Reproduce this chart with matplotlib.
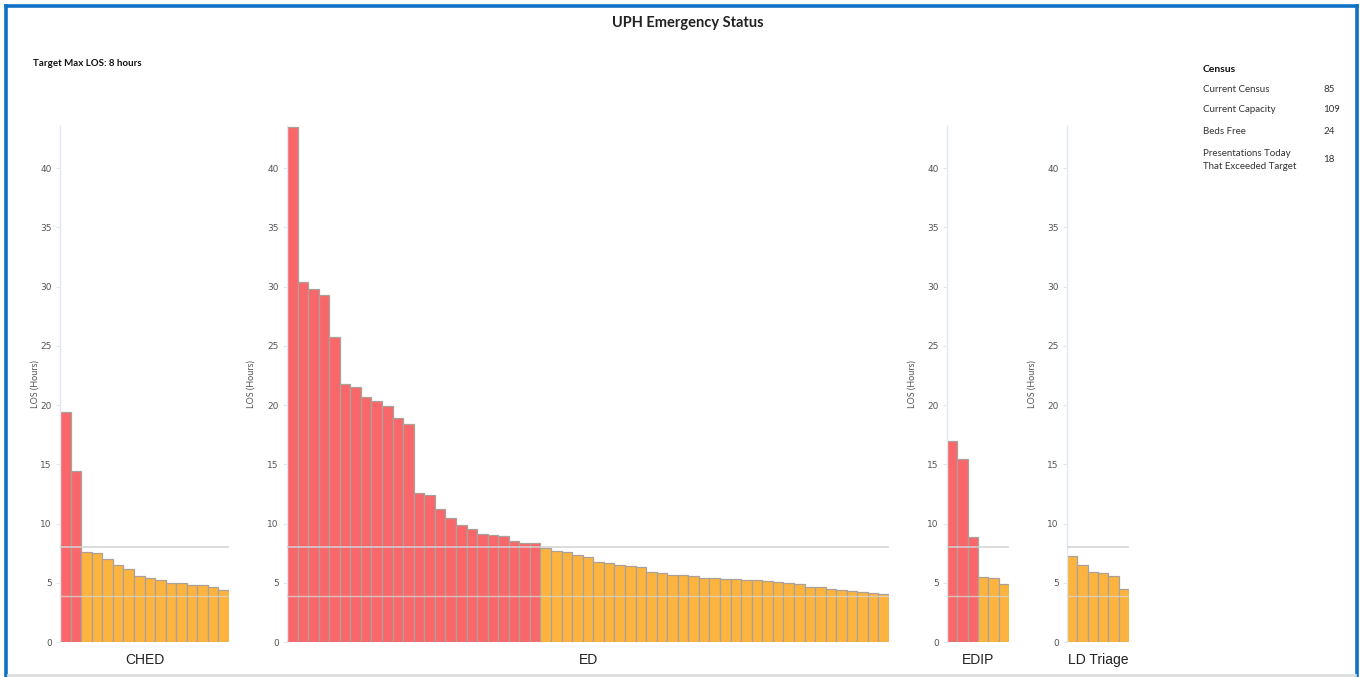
import matplotlib.pyplot as plt
from matplotlib.lines import Line2D

# LOS (hours) per presentation, sorted descending, per area
areas = ['CHED', 'ED', 'EDIP', 'LD Triage']
ched = [19.4, 14.4, 7.6, 7.5, 7.0, 6.5, 6.2, 5.6, 5.4, 5.2, 5.0, 4.95, 4.8, 4.8, 4.65, 4.4]
ed = [43.5, 30.4, 29.8, 29.3, 25.7, 21.8, 21.55, 20.65, 20.3, 19.9, 18.9, 18.4,
      12.55, 12.4, 11.2, 10.5, 9.9, 9.55, 9.15, 9.05, 8.95, 8.55, 8.33, 8.33,
      7.9, 7.72, 7.63, 7.33, 7.16, 6.77, 6.65, 6.47, 6.39, 6.34, 5.92, 5.86,
      5.68, 5.62, 5.58, 5.38, 5.37, 5.29, 5.28, 5.2, 5.2, 5.12, 5.1, 4.95,
      4.87, 4.62, 4.6, 4.5, 4.4, 4.33, 4.22, 4.12, 4.06]
edip = [16.95, 15.45, 8.85, 5.45, 5.38, 4.87]
ld_triage = [7.3, 6.5, 5.9, 5.8, 5.6, 4.45]
series = [ched, ed, edip, ld_triage]

target = 8
lower_line = 3.9

census_labels = ['Current Census', 'Current Capacity', 'Beds Free',
                 'Presentations Today\nThat Exceeded Target']
census_values = ['85', '109', '24', '18']

red = '#f9676b'
orange = '#fdb43e'
edge = '#aaa29a'

W, H = 1360, 677
fig = plt.figure(figsize=(13.6, 6.77), dpi=100)

def px(x0, y0, x1, y1):
    return [x0 / W, 1 - y1 / H, (x1 - x0) / W, (y1 - y0) / H]

# panel extents in pixels (left, right)
panel_x = [(60, 229), (287, 889), (947, 1009), (1067, 1129)]
label_pad = [0.5, 8, 7.5, 7.5]
top_px, bottom_px = 126, 642

for name, vals, (x0, x1), lp in zip(areas, series, panel_x, label_pad):
    ax = fig.add_axes(px(x0, top_px, x1, bottom_px))
    xs = list(range(len(vals)))
    colors = [red if v > target else orange for v in vals]
    ax.bar(xs, vals, width=1.0, color=colors, edgecolor=edge, linewidth=0.9, zorder=2)
    ax.axhline(target, color='#d2d2d2', lw=1.1, zorder=3)
    ax.axhline(lower_line, color='#d9d4cc', lw=1.0, alpha=0.8, zorder=3)
    ax.set_xlim(-0.5, len(vals) - 0.5)
    ax.set_ylim(0, 43.55)
    ax.set_yticks(range(0, 45, 5))
    ax.tick_params(axis='y', labelsize=6.5, labelcolor='#555555', color='#dfe7f2',
                   length=3, width=0.8, pad=3)
    ax.set_xticks([])
    for s in ['top', 'right', 'bottom']:
        ax.spines[s].set_visible(False)
    ax.spines['left'].set_color('#dfe7f2')
    ax.spines['left'].set_linewidth(1.0)
    ax.set_ylabel('LOS (Hours)', fontsize=6.5, color='#555555', labelpad=lp,
                  family='Lato')
    ax.set_xlabel(name, fontsize=10, family='Liberation Sans', color='#222222',
                  labelpad=8)
    ax.set_facecolor('none')

fig.text(688 / W, 1 - 23 / H, 'UPH Emergency Status', ha='center', va='center',
         fontsize=10.5, fontweight='bold', family='Lato', color='#222222')
fig.text(33 / W, 1 - 63 / H, 'Target Max LOS: 8 hours', ha='left', va='center',
         fontsize=7, fontweight='bold', family='Lato', color='#111111')

# census table
fig.text(1203 / W, 1 - 69 / H, 'Census', ha='left', va='center', fontsize=7.5,
         fontweight='bold', family='Lato', color='#111111')
row_y = [89, 110, 131, 160]
for lab, val, y in zip(census_labels, census_values, row_y):
    fig.text(1203 / W, 1 - y / H, lab, ha='left', va='center', fontsize=7,
             family='Lato', color='#333333', linespacing=1.6)
    fig.text(1323 / W, 1 - y / H, val, ha='left', va='center', fontsize=7,
             family='Lato', color='#333333')

# frame
blue = '#0f72c5'
fig.add_artist(Line2D([6 / W, 6 / W], [0, 1 - 6 / H], color=blue, lw=2.6))
fig.add_artist(Line2D([6 / W, 1357 / W], [1 - 6 / H, 1 - 6 / H], color=blue, lw=2.6))
fig.add_artist(Line2D([1357 / W, 1357 / W], [0, 1 - 6 / H], color=blue, lw=2.6))
fig.add_artist(Line2D([8 / W, 1355 / W], [1 - 675 / H, 1 - 675 / H],
                      color='#dddddd', lw=2))

fig.savefig('out.png', dpi=100, facecolor='white')
